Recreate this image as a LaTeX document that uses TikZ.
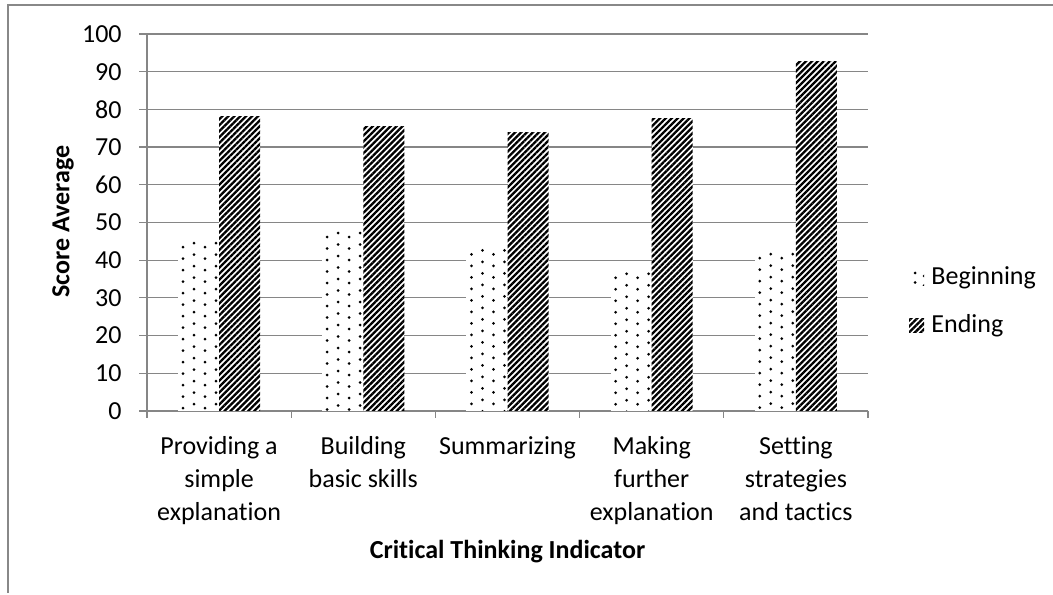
\documentclass[tikz,border=0pt]{standalone}
\usepackage{fontspec}
\setmainfont{Carlito}[Ligatures=NoCommon]
\usetikzlibrary{patterns.meta}
\definecolor{gridgray}{RGB}{134,134,134}
\definecolor{framegray}{RGB}{136,136,136}
\tikzset{
  gridline/.style={draw=gridgray,line width=0.6pt},
  endbar/.style={pattern={Lines[angle=45,distance=2.1pt,line width=1.15pt]}},
  dotmark/.style={fill=black},
}
\begin{document}
\begin{tikzpicture}[x=0.5pt,y=0.5pt,font=\fontsize{13}{16.5}\selectfont]
\useasboundingbox (0,0) rectangle (1053,594);
% frame
\draw[framegray,line width=0.6pt] (8,1) -- (8,589) -- (1053,589);
% grid and ticks
\foreach \k in {1,...,10}
  \draw[gridline] (147,183+37.7*\k) -- (868,183+37.7*\k);
\foreach \k in {0,...,10}
  \draw[gridline] (139,183+37.7*\k) -- (147,183+37.7*\k);
\draw[gridline] (147,183) -- (147,560);
\draw[gridline] (139,183) -- (868,183);
\foreach \i in {0,...,5}
  \draw[gridline] (147+144.2*\i,183) -- (147+144.2*\i,176);
% y labels
\foreach \k in {0,...,10}
  \node (yl\k) [anchor=east,inner sep=0pt] at (122,183+37.7*\k) {\pgfmathparse{int(10*\k)}\pgfmathresult};
%
% beginning bars (dotted)
\foreach \v [count=\i] in {45.3,48.0,43.4,37.2,42.4} {
  \pgfmathsetmacro\xl{147+(\i-1)*144.2+31}
  \pgfmathsetmacro\yt{183+3.77*\v}
  \fill[white] (\xl,183) rectangle (\xl+41,\yt);
  \begin{scope}
    \clip (\xl,183) rectangle (\xl+41,\yt);
    \foreach \c/\o in {0/0,1/4,2/0,3/4}
      \foreach \r in {0,...,17}
        \fill[dotmark] (\xl+5+11*\c,\yt-7+\o-11.5*\r) circle[radius=0.75pt];
  \end{scope}
}
% ending bars (striped)
\foreach \v [count=\i] in {78.2,75.4,73.8,77.5,92.8} {
  \pgfmathsetmacro\xl{147+(\i-1)*144.2+72.1}
  \pgfmathsetmacro\yt{183+3.77*\v}
  \fill[white] (\xl,183) rectangle (\xl+41,\yt);
  \fill[endbar] (\xl,183) rectangle (\xl+41,\yt);
}
%
% category labels
\foreach \t [count=\i] in {Providing a\\simple\\explanation,Building\\basic skills,Summarizing,Making\\further\\explanation,Setting\\strategies\\and tactics}
  \node (cat\i) [anchor=north,align=center,inner sep=0pt] at (147+144.2*\i-72.1,157.5) {\t};
%
% axis titles
\node (xtitle) [anchor=base,font=\fontsize{13}{16.5}\selectfont\bfseries] at (507.5,36) {Critical Thinking Indicator};
\node (ytitle) [anchor=base,rotate=90,font=\fontsize{13}{16.5}\selectfont\bfseries] at (69.3,372.5) {Score Average};
%
% legend
\fill[white] (909,308) rectangle (924,322);
\begin{scope}
  \clip (909,308) rectangle (924,322);
  \foreach \c/\o in {0/0,1/3}
    \foreach \r in {0,1}
      \fill[dotmark] (915+9*\c,321-\o-9.5*\r) circle[radius=0.75pt];
\end{scope}
\fill[endbar] (909,261) rectangle (924,275);
\node (lbeg) [anchor=base west,inner sep=0pt] at (931,309) {Beginning};
\node (lend) [anchor=base west,inner sep=0pt] at (931,261) {Ending};
\end{tikzpicture}
\end{document}
